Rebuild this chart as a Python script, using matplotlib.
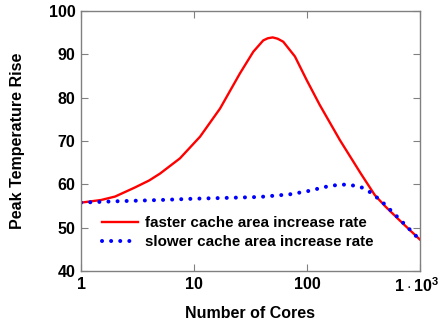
import matplotlib
matplotlib.use('Agg')
import matplotlib.pyplot as plt
import matplotlib.transforms as mtransforms

plt.rcParams['font.family'] = ['Liberation Sans', 'DejaVu Sans']
plt.rcParams['font.weight'] = 'bold'
plt.rcParams['mathtext.fontset'] = 'custom'
plt.rcParams['mathtext.rm'] = 'Liberation Sans:bold'
plt.rcParams['mathtext.default'] = 'rm'

# Data
fast_x = [1, 1.5, 2, 3, 4, 5, 7.5, 11.3, 17, 25.5, 33.5, 41, 45, 49.7, 55, 61.7, 78.3, 99.3,
          130, 196, 300, 400, 500, 700, 1000]
fast_y = [55.8, 56.4, 57.2, 59.3, 60.9, 62.5, 66.0, 71.0, 77.5, 85.6, 90.6, 93.2, 93.7, 93.9,
          93.6, 92.9, 89.5, 84.1, 78.3, 70.2, 62.5, 57.5, 54.8, 51.1, 47.3]

slow_x = [1, 2, 5, 10, 20, 38, 70, 100, 150, 200, 250, 300, 350, 450, 600, 800, 1000]
slow_y = [55.8, 56.1, 56.4, 56.7, 56.9, 57.1, 57.7, 58.4, 59.5, 60.0, 59.8, 59.4, 58.5,
          56.3, 53.1, 49.8, 47.2]

x_ticks = [1, 10, 100, 1000]
x_labels = ['1', '10', '100', r'$1\cdot10^3$']
y_ticks = [40, 50, 60, 70, 80, 90, 100]

fig = plt.figure(figsize=(4.41, 3.22), dpi=100)
ax = fig.add_axes([0.184, 0.158, 0.768, 0.808])

ax.plot(fast_x, fast_y, color='red', lw=1.7, solid_joinstyle='round',
        label='faster cache area increase rate')
ax.plot(slow_x, slow_y, color='blue', lw=2.9, linestyle=(0, (0.01, 2.25)),
        dash_capstyle='round', label='slower cache area increase rate')

ax.set_xscale('log')
ax.set_xlim(1, 1000)
ax.set_ylim(40, 100)
ax.set_xticks(x_ticks)
ax.set_xticklabels(x_labels)
ax.minorticks_off()
ax.set_yticks(y_ticks)

ax.tick_params(direction='in', length=5, color='#808080', top=True, right=True,
               labelsize=11.5, pad=4)
for s in ax.spines.values():
    s.set_color('#808080')
    s.set_linewidth(1.0)

# nudge the last tick label a little so it stays inside the figure
last = ax.get_xticklabels()[-1]
last.set_transform(last.get_transform() +
                   mtransforms.ScaledTranslation(-3 / 100, 0, fig.dpi_scale_trans))

ax.set_xlabel('Number of Cores', fontsize=11.5, fontweight='bold', labelpad=8)
ax.set_ylabel('Peak Temperature Rise', fontsize=11.5, fontweight='bold', labelpad=17)

leg = ax.legend(loc='center left', bbox_to_anchor=(0.062, 0.148), frameon=False,
                fontsize=10.9, handlelength=2.4, handletextpad=0.45, labelspacing=0.3,
                borderpad=0, borderaxespad=0)

fig.savefig('out.png', dpi=100)
